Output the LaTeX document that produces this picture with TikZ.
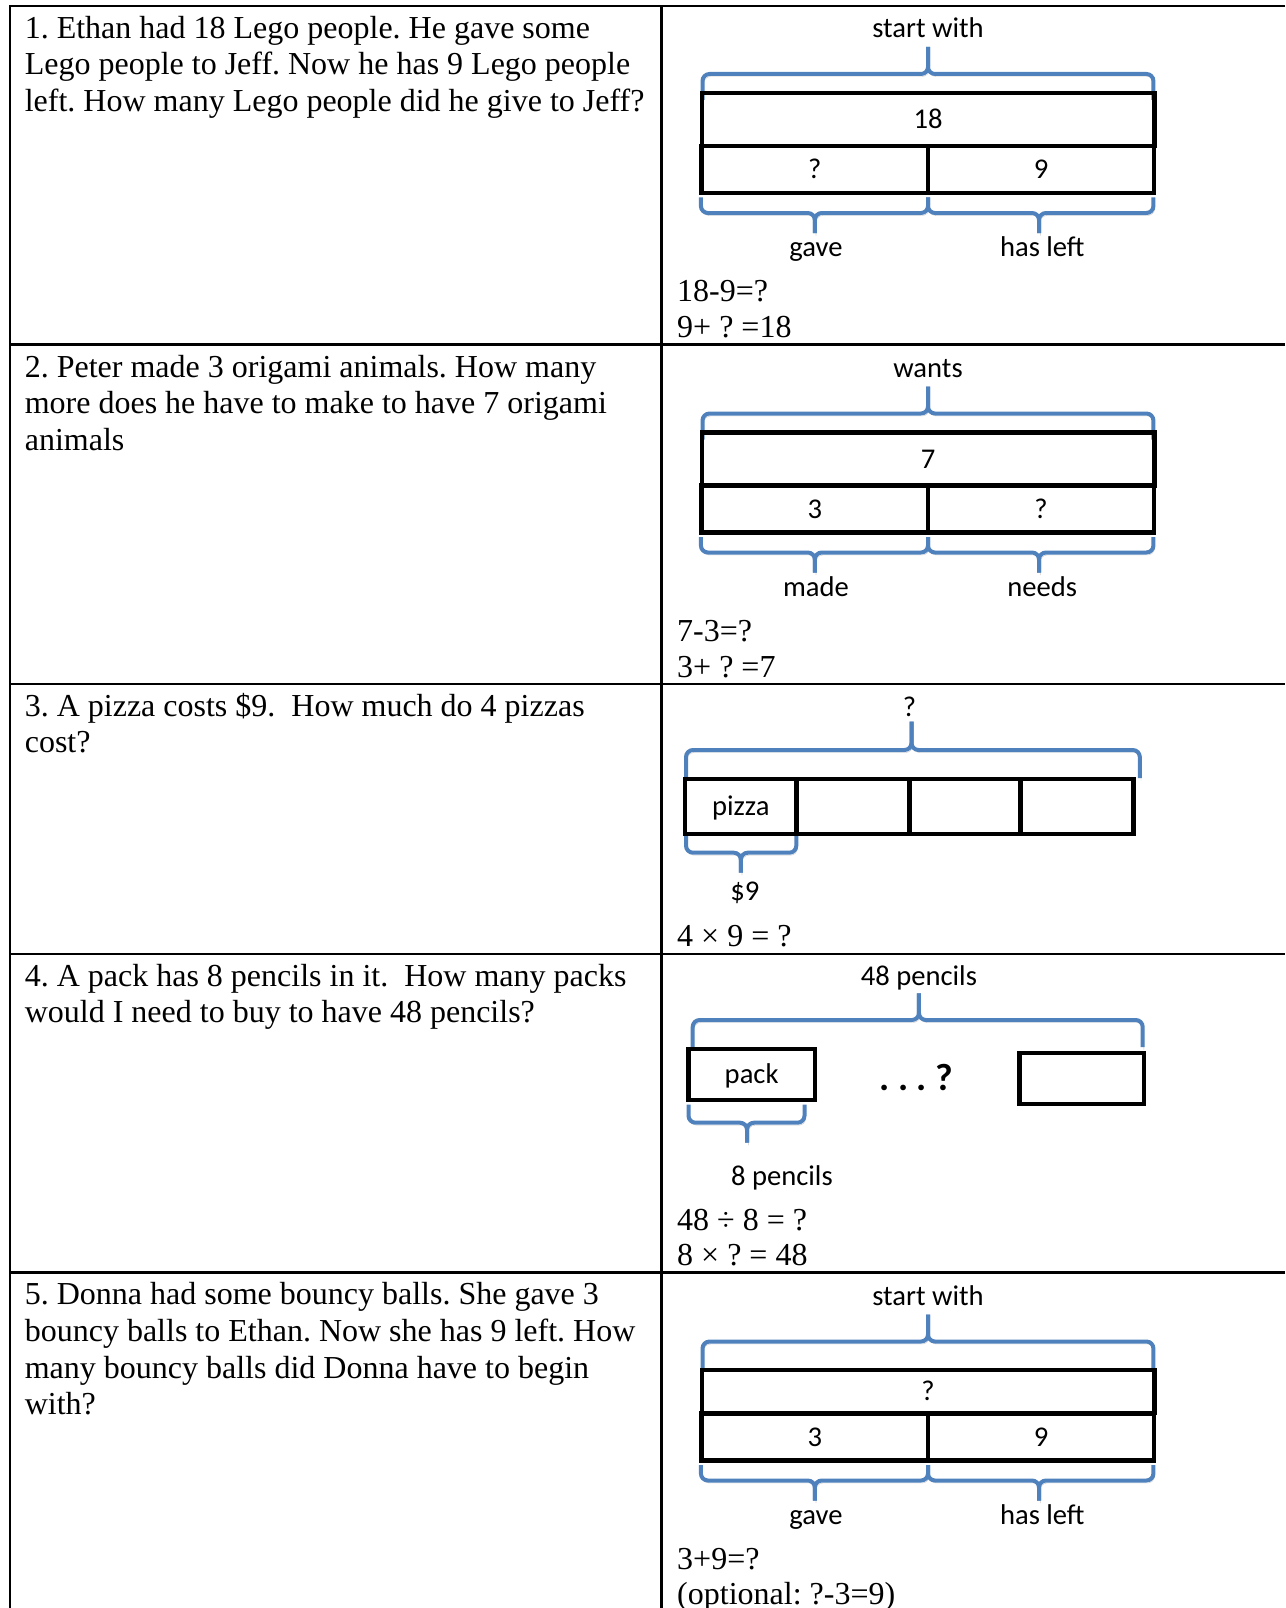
\documentclass[tikz,border=0pt]{standalone}
\usepackage{fontspec}
\setmainfont{Liberation Serif}
\newfontfamily\timesfont{Liberation Serif}
\newfontfamily\calfont{Carlito}
\definecolor{braceblue}{RGB}{79,129,189}
% top/bottom brace: xl, xmid, xr, y of ends, y of bar, y of tip
\newcommand\tdbrace[6]{%
  \draw[brc] (#1,#4) -- (#1,#5) -- (#2,#5) -- (#2,#6);
  \draw[brc] (#3,#4) -- (#3,#5) -- (#2,#5) -- (#2,#6);}
\begin{document}
\frenchspacing
\begin{tikzpicture}[x=1pt,y=-1pt,
  tbl/.style={line width=2.5pt},
  cell/.style={draw, line width=4.5pt, inner sep=0pt, outer sep=0pt,
    font=\calfont\fontsize{28.6}{34}\selectfont, text height=18.4pt, text depth=0pt},
  lbl/.style={inner sep=0pt, anchor=base, font=\calfont\fontsize{28.6}{34}\selectfont},
  eqn/.style={inner sep=0pt, anchor=base west, font=\timesfont\fontsize{32}{36.6}\selectfont},
  qtext/.style={inner sep=0pt, anchor=north west, align=left, font=\timesfont\fontsize{32}{36.6}\selectfont},
  brc/.style={draw=braceblue, line width=4pt, rounded corners=7pt,
    preaction={draw=black!22, transform canvas={xshift=1.2pt,yshift=-2.5pt}}},
]
\useasboundingbox[fill=white] (0,0) rectangle (1285,1608);

% ---------- table ----------
\draw[tbl] (1285,6) -- (10,6) -- (10,1608);
\draw[tbl] (661.4,6) -- (661.4,1608);
\draw[tbl] (10,344.3) -- (1285,344.3);
\draw[tbl] (10,684) -- (1285,684);
\draw[tbl] (10,954) -- (1285,954);
\draw[tbl] (10,1272.7) -- (1285,1272.7);

% ---------- questions ----------
\node[qtext] (q1) at (24.6,12.4) {\strut 1. Ethan had 18 Lego people. He gave some\\Lego people to Jeff. Now he has 9 Lego people\\left. How many Lego people did he give to Jeff?};
\node[qtext] (q2) at (24.6,351.2) {\strut 2. Peter made 3 origami animals. How many\\more does he have to make to have 7 origami\\animals};
\node[qtext] (q3) at (24.6,690.2) {\strut 3. A pizza costs \$9.\ \ How much do 4 pizzas\\cost?};
\node[qtext] (q4) at (24.6,960.4) {\strut 4. A pack has 8 pencils in it.\ \ How many packs\\would I need to buy to have 48 pencils?};
\node[qtext] (q5) at (24.6,1279.1) {\strut 5. Donna had some bouncy balls. She gave 3\\bouncy balls to Ethan. Now she has 9 left. How\\many bouncy balls did Donna have to begin\\with?};

% ---------- problem 1 ----------
\node[lbl] (r1whole) at (928,38) {start with};
\tdbrace{702.5}{928}{1153.4}{100}{74}{47}
\node[cell, minimum width=452.5pt, minimum height=53.3pt] (r1total) at (928,119.5) {18};
\node[cell, minimum width=226.3pt, minimum height=46.7pt] (r1a) at (814.85,169.5) {?};
\node[cell, minimum width=226.2pt, minimum height=46.7pt] (r1b) at (1041.1,169.5) {9};
\tdbrace{700.9}{814.8}{928}{197.5}{213}{233}
\tdbrace{928}{1039}{1153.4}{197.5}{213}{233}
\node[lbl] (r1la) at (816,256.5) {gave};
\node[lbl] (r1lb) at (1042.3,256.5) {has left};
\node[eqn] (r1e1) at (677,301.5) {18-9=?};
\node[eqn] (r1e2) at (677,337.5) {9+ ? =18};

% ---------- problem 2 ----------
\begin{scope}[shift={(0,339.5)}]
\node[lbl] (r2whole) at (928,38) {wants};
\tdbrace{702.5}{928}{1153.4}{100}{74}{47}
\node[cell, minimum width=452.5pt, minimum height=53.3pt] (r2total) at (928,119.5) {7};
\node[cell, minimum width=226.3pt, minimum height=46.7pt] (r2a) at (814.85,169.5) {3};
\node[cell, minimum width=226.2pt, minimum height=46.7pt] (r2b) at (1041.1,169.5) {?};
\tdbrace{700.9}{814.8}{928}{197.5}{213}{233}
\tdbrace{928}{1039}{1153.4}{197.5}{213}{233}
\node[lbl] (r2la) at (816,256.5) {made};
\node[lbl] (r2lb) at (1042.3,256.5) {needs};
\node[eqn] (r2e1) at (677,301.5) {7-3=?};
\node[eqn] (r2e2) at (677,337.5) {3+ ? =7};
\end{scope}

% ---------- problem 3 ----------
\node[lbl] (r3whole) at (909.4,716) {?};
\tdbrace{686}{911.5}{1139.8}{778}{750}{721.7}
\node[cell, minimum width=111.1pt, minimum height=55pt] (r3c1) at (740.75,806.5) {pizza};
\node[cell, minimum width=113.1pt, minimum height=55pt] (r3c2) at (852.85,806.5) {};
\node[cell, minimum width=111.1pt, minimum height=55pt] (r3c3) at (964.95,806.5) {};
\node[cell, minimum width=113.1pt, minimum height=55pt] (r3c4) at (1077.05,806.5) {};
\tdbrace{686}{740.8}{796.3}{836}{852.7}{872.7}
\node[lbl] (r3part) at (744.9,900.5) {\$9};
\node[eqn] (r3e1) at (677,946.5) {4 × 9 = ?};

% ---------- problem 4 ----------
\node[lbl] (r4whole) at (918.9,985.5) {48 pencils};
\tdbrace{692.7}{918.9}{1142.7}{1047}{1020}{993.3}
\node[cell, minimum width=126.3pt, minimum height=50.7pt] (r4pack) at (751.65,1074.5) {pack};
\node[inner sep=0pt, anchor=base, font=\calfont\bfseries\fontsize{38}{40}\selectfont] (r4dots) at (916.4,1090) {. . . ?};
\node[cell, minimum width=124.6pt, minimum height=50.6pt] (r4last) at (1081.6,1078.5) {};
\tdbrace{688.5}{747}{804.5}{1104.5}{1122.7}{1142.7}
\node[lbl] (r4part) at (781.9,1185) {8 pencils};
\node[eqn] (r4e1) at (677,1230) {48 ÷ 8 = ?};
\node[eqn] (r4e2) at (677,1265) {8 × ? = 48};

% ---------- problem 5 ----------
\begin{scope}[shift={(0,1267.5)}]
\node[lbl] (r5whole) at (928,38) {start with};
\tdbrace{702.5}{928}{1153.4}{101}{74}{47}
\node[cell, minimum width=452.5pt, minimum height=43.4pt] (r5total) at (928,124) {?};
\node[cell, minimum width=226.3pt, minimum height=46.7pt] (r5a) at (814.85,169.5) {3};
\node[cell, minimum width=226.2pt, minimum height=46.7pt] (r5b) at (1041.1,169.5) {9};
\tdbrace{700.9}{814.8}{928}{197.5}{213}{233}
\tdbrace{928}{1039}{1153.4}{197.5}{213}{233}
\node[lbl] (r5la) at (816,256.5) {gave};
\node[lbl] (r5lb) at (1042.3,256.5) {has left};
\node[eqn] (r5e1) at (677,301.5) {3+9=?};
\node[eqn] (r5e2) at (677,336.5) {(optional: ?-3=9)};
\end{scope}
\end{tikzpicture}
\end{document}
